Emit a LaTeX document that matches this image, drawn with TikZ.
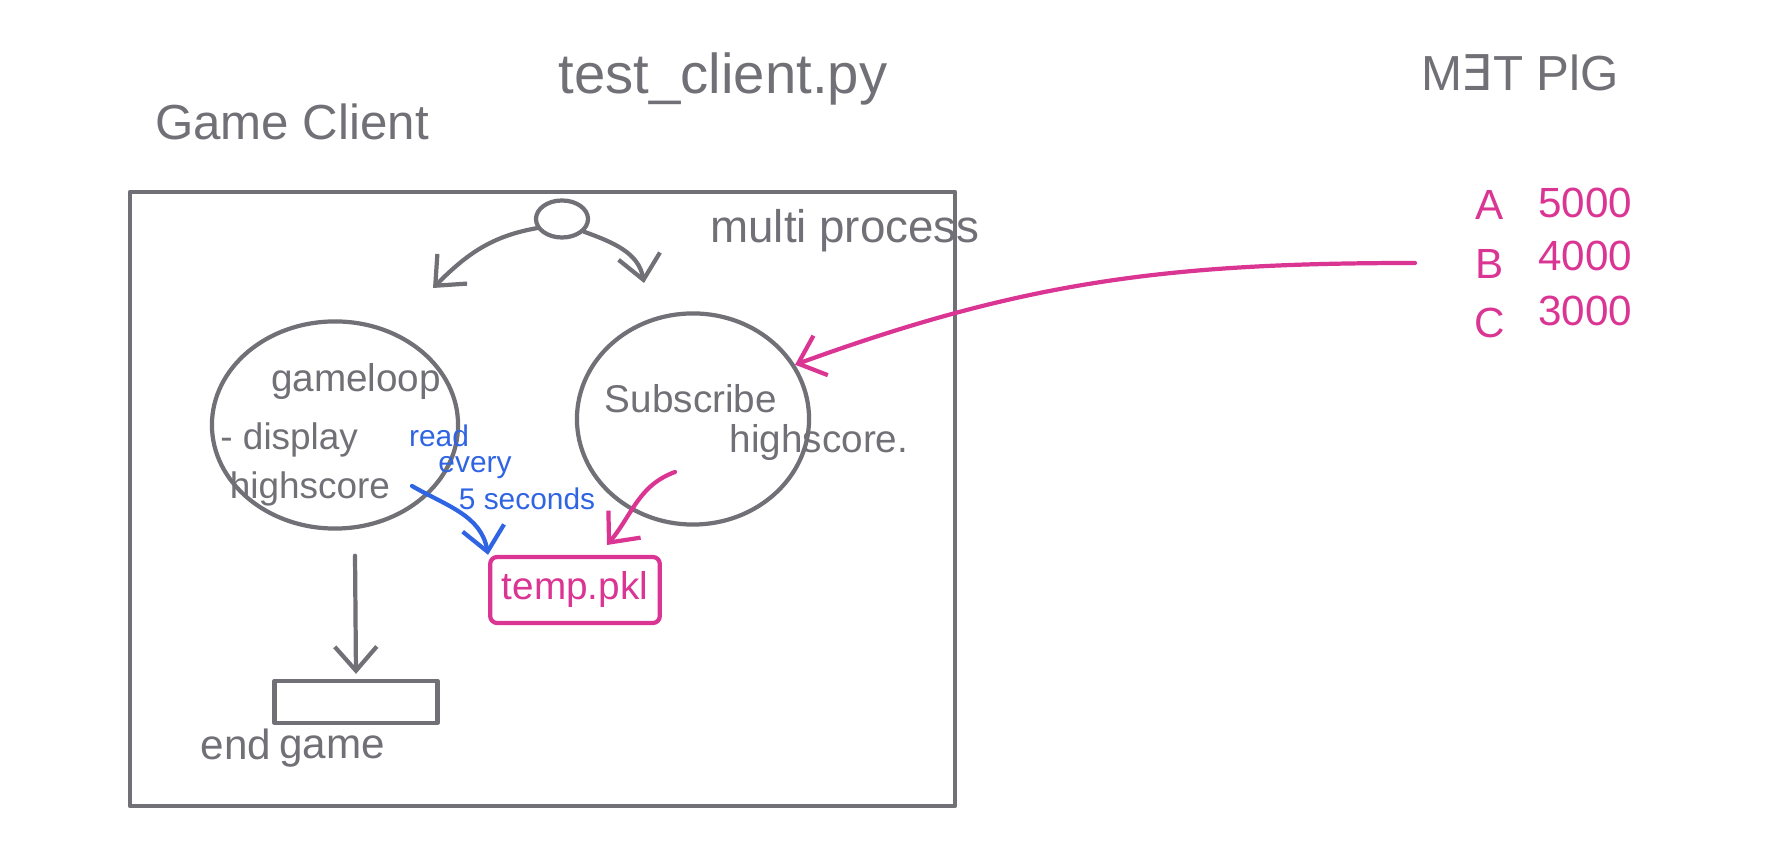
\documentclass[tikz,border=0pt]{standalone}
\usepackage{fontspec}
\setmainfont{Liberation Sans}
\newfontfamily\dejavu{DejaVu Sans}
\usepackage{xcolor}
\usetikzlibrary{arrows.meta, shapes.geometric, positioning}

\definecolor{pen}{HTML}{707076}
\definecolor{marker}{HTML}{DB3594}
\definecolor{ink}{HTML}{2F64E3}

\tikzset{
  sketch/.style={draw=pen, line width=1.2pt, line cap=round, line join=round},
  hilite/.style={draw=marker, line width=1.2pt, line cap=round, line join=round},
  bubble/.style={sketch, ellipse, inner sep=0pt},
  pentext/.style={text=pen, inner sep=0.5pt},
  fs/.style={font=\fontsize{#1}{#1}\selectfont}
}

\begin{document}
\begin{tikzpicture}[x=0.01cm, y=-0.01cm, >={Straight Barb[length=2.4mm, width=4.2mm]}]
    \useasboundingbox (0,0) rectangle (1772,865);

    % Titel
    \node[pentext, fs=16] (title) at (723,79) {test\_client.py};
    \node[pentext, fs=14] (client) at (292,122) {Game Client};
    \node[pentext, fs=14] (mtpig) at (1520,73) {M{\dejavu Ǝ}T PlG};

    % Rahmen
    \draw[sketch] (130,192) rectangle (955,806);
    \node[pentext, fs=13] (multi) at (845,231) {multi process};

    % Prozesse
    \node[bubble, minimum width=0.52cm, minimum height=0.37cm] (fork) at (562,219) {};
    \node[bubble, minimum width=2.46cm, minimum height=2.07cm] (gl) at (335,425) {};
    \node[bubble, minimum width=2.32cm, minimum height=2.11cm] (sub) at (693,419) {};
    \coordinate (glin) at (433,288);
    \coordinate (subin) at (644,283);
    \draw[sketch, ->] (fork.200) to[out=190, in=45] (glin);
    \draw[sketch, ->] (fork.-30) to[out=-20, in=100] (subin);

    \node[pentext, fs=11] (glname) at (356,382) {gameloop};
    \node[pentext, fs=10.5, anchor=west] (glshow) at (218,440) {- display};
    \node[pentext, fs=10.5] (glscore) at (310,489) {highscore};
    \node[pentext, fs=11] (subname) at (691,399) {Subscribe};
    \node[pentext, fs=11] (subscore) at (819,443) {highscore.};

    % Datei
    \node[hilite, rounded corners=2pt, minimum width=1.65cm, minimum height=0.66cm,
          text=marker, fs=11] (pkl) at (575,590) {temp.pkl};
    \node[sketch, minimum width=1.63cm, minimum height=0.42cm] (eg) at (356,702) {};
    \node[pentext, fs=12] (egend) at (236,744) {end};
    \node[pentext, fs=12] (eggame) at (332,752) {game};

    % Lesen alle 5 Sekunden
    \coordinate (readtail) at (412,486);
    \draw[draw=ink, line width=1.2pt, line cap=round, ->] (readtail) to[out=-30, in=100] (pkl.north west);
    \node[text=ink, inner sep=0.5pt, fs=8.5] (read1) at (439,436) {read};
    \node[text=ink, inner sep=0.5pt, fs=8.5] (read2) at (475,468) {every};
    \node[text=ink, inner sep=0.5pt, fs=8.5] (read3) at (527,499) {5 seconds};

    \coordinate (subtail) at (675,472);
    \coordinate (pkltop) at (607,545);
    \draw[hilite, ->] (subtail) to[out=200, in=50] (pkltop);

    \draw[sketch, ->] ([xshift=0.2cm, yshift=-0.25cm]gl.south) -- ([yshift=0.05cm]eg.north);

    % Highscores
    \foreach \name/\score/\ya/\yb in {A/5000/205/203, B/4000/264/256, C/3000/323/311} {
        \node[text=marker, fs=12] (lbl-\name) at (1490,\ya) {\name};
        \node[text=marker, fs=12] (val-\name) at (1585,\yb) {\score};
    }
    \coordinate (pinkstart) at (1415,263);
    \draw[hilite, ->] (pinkstart) to[out=180, in=20] (sub.28);
\end{tikzpicture}
\end{document}
